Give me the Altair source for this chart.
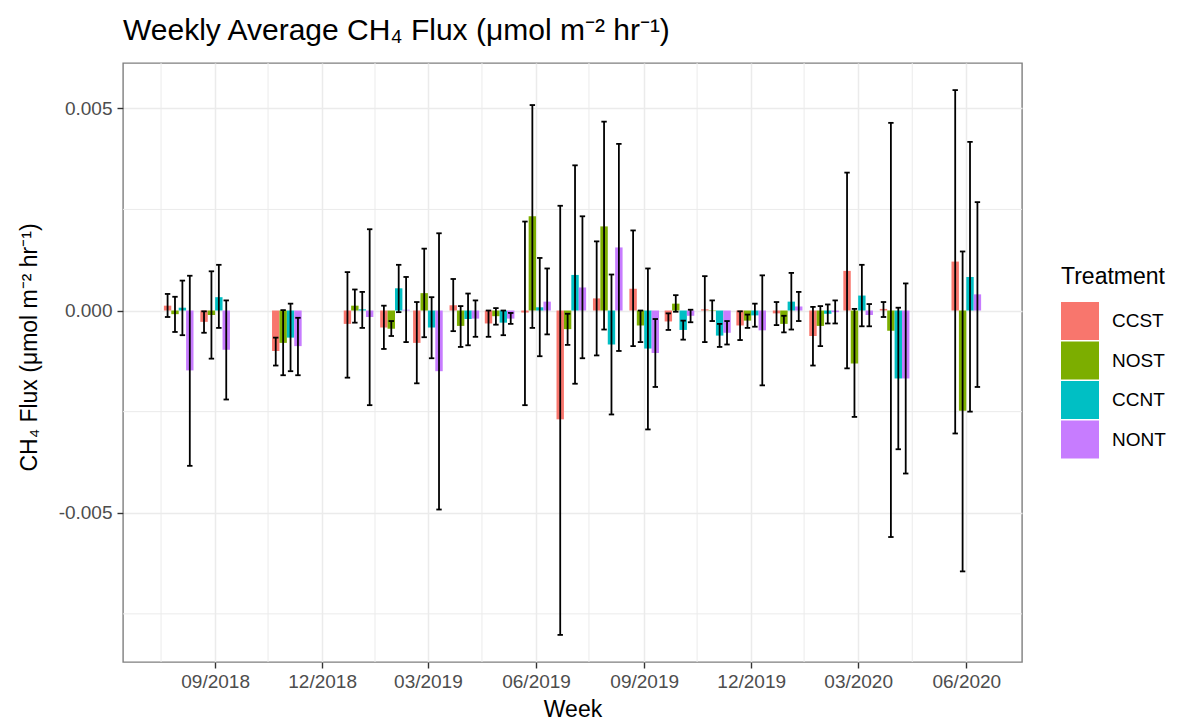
import altair as alt
import pandas as pd

# Monthly sampling dates (one group of bars per date)
weeks = [
    "2018-08-01", "2018-09-01", "2018-11-01", "2019-01-01", "2019-02-01",
    "2019-03-01", "2019-04-01", "2019-05-01", "2019-06-01", "2019-07-01",
    "2019-08-01", "2019-09-01", "2019-10-01", "2019-11-01", "2019-12-01",
    "2020-01-01", "2020-02-01", "2020-03-01", "2020-04-01", "2020-06-01",
]

treatments = ["CCST", "NOST", "CCNT", "NONT"]
colors = ["#F8766D", "#7CAE00", "#00BFC4", "#C77CFF"]

# Mean flux per treatment (umol m-2 hr-1)
flux_ccst = [0.00012, -0.00028, -0.00100, -0.00033, -0.00042, -0.00080, 0.00013, -0.00032, -0.00005, -0.00269,
             0.00030, 0.00054, -0.00027, 0.00003, -0.00037, -0.00007, -0.00063, 0.00098, 0.00004, 0.00121]
flux_nost = [-0.00009, -0.00011, -0.00080, 0.00012, -0.00045, 0.00043, -0.00038, -0.00014, 0.00233, -0.00046,
             0.00208, -0.00037, 0.00017, -0.00001, -0.00025, -0.00033, -0.00038, -0.00131, -0.00050, -0.00248]
flux_ccnt = [0.00007, 0.00033, -0.00067, 0.00003, 0.00055, -0.00042, -0.00021, -0.00030, 0.00008, 0.00088,
             -0.00084, -0.00094, -0.00048, -0.00062, -0.00012, 0.00022, -0.00008, 0.00037, -0.00168, 0.00083]
flux_nont = [-0.00148, -0.00097, -0.00088, -0.00016, 0.00002, -0.00150, -0.00020, -0.00020, 0.00022, 0.00057,
             0.00156, -0.00105, -0.00013, -0.00055, -0.00049, 0.00010, -0.00004, -0.00011, -0.00168, 0.00040]

# Upper ends of the error bars
upper_ccst = [0.00041, -0.00002, -0.00067, 0.00095, 0.00012, 0.00021, 0.00078, 0.00000, 0.00220, 0.00259,
              0.00171, 0.00198, -0.00007, 0.00085, -0.00002, 0.00021, 0.00009, 0.00341, 0.00021, 0.00545]
upper_nost = [0.00034, 0.00097, 0.00001, 0.00052, -0.00026, 0.00153, 0.00011, 0.00006, 0.00508, -0.00008,
              0.00467, 0.00000, 0.00038, 0.00025, -0.00010, -0.00013, 0.00011, 0.00004, 0.00464, 0.00146]
upper_ccnt = [0.00074, 0.00113, 0.00017, 0.00046, 0.00113, 0.00033, 0.00042, 0.00000, 0.00130, 0.00359,
              0.00089, 0.00104, -0.00025, -0.00033, 0.00017, 0.00093, 0.00015, 0.00113, 0.00007, 0.00417]
upper_nont = [0.00086, 0.00025, -0.00018, 0.00201, 0.00083, 0.00191, 0.00025, -0.00006, 0.00104, 0.00233,
              0.00412, -0.00021, 0.00002, -0.00026, 0.00087, 0.00046, 0.00025, 0.00016, 0.00067, 0.00268]

# Lower ends of the error bars
lower_ccst = [-0.00016, -0.00055, -0.00136, -0.00166, -0.00095, -0.00180, -0.00051, -0.00065, -0.00234, -0.00802,
              -0.00111, -0.00088, -0.00048, -0.00078, -0.00073, -0.00036, -0.00136, -0.00143, -0.00016, -0.00304]
lower_nost = [-0.00053, -0.00119, -0.00160, -0.00030, -0.00063, -0.00066, -0.00090, -0.00035, -0.00043, -0.00085,
              -0.00047, -0.00078, -0.00003, -0.00026, -0.00043, -0.00054, -0.00088, -0.00263, -0.00560, -0.00645]
lower_ccnt = [-0.00061, -0.00043, -0.00150, -0.00043, -0.00004, -0.00118, -0.00086, -0.00061, -0.00113, -0.00181,
              -0.00257, -0.00294, -0.00072, -0.00090, -0.00040, -0.00047, -0.00032, -0.00039, -0.00343, -0.00250]
lower_nont = [-0.00384, -0.00220, -0.00160, -0.00234, -0.00078, -0.00492, -0.00065, -0.00033, -0.00059, -0.00118,
              -0.00100, -0.00189, -0.00029, -0.00084, -0.00185, -0.00026, -0.00032, -0.00039, -0.00403, -0.00189]

# Axis breaks
x_major = [(2018, 9), (2018, 12), (2019, 3), (2019, 6), (2019, 9), (2019, 12), (2020, 3), (2020, 6)]
x_minor = ["2018-07-17", "2018-10-16", "2019-01-15", "2019-04-16", "2019-07-16",
           "2019-10-16", "2020-01-15", "2020-04-16"]
y_major = [-0.005, 0.0, 0.005]
y_minor = [-0.0075, -0.0025, 0.0025]

series = {
    "CCST": (flux_ccst, upper_ccst, lower_ccst),
    "NOST": (flux_nost, upper_nost, lower_nost),
    "CCNT": (flux_ccnt, upper_ccnt, lower_ccnt),
    "NONT": (flux_nont, upper_nont, lower_nont),
}
rows = []
for t in treatments:
    f, u, l = series[t]
    for w, fv, uv, lv in zip(weeks, f, u, l):
        rows.append({"Week": w, "Treatment": t, "flux": fv, "upper": uv, "lower": lv})
df = pd.DataFrame(rows)

FONT = "Liberation Sans"
DAY = 86400000
y_title = "CH\u2084 Flux (\u03bcmol m\u207b\u00b2 hr\u207b\u00b9)"

x_scale = alt.Scale(
    type="utc",
    domain=[alt.DateTime(year=2018, month=6, date=14, hours=15, utc=True),
            alt.DateTime(year=2020, month=7, date=18, hours=9, utc=True)],
    nice=False,
)
y_scale = alt.Scale(domain=[-0.00869, 0.00612], nice=False, zero=False)

x_axis = alt.Axis(
    values=[alt.DateTime(year=y, month=m, date=1, utc=True) for y, m in x_major],
    labelExpr="utcFormat(datum.value, '%m/%Y')",
    title="Week", titleY=54, titleBaseline="alphabetic",
    labelPadding=4,
)
y_axis = alt.Axis(
    values=y_major,
    labelExpr="(datum.value < 0 ? '-' : '') + format(abs(datum.value), '.3f')",
    title=y_title, titleX=-87, titleY=284, titleAngle=270,
    titleBaseline="alphabetic", titleAlign="center",
    labelPadding=5,
)

X = lambda f: alt.X(f, scale=x_scale, axis=x_axis)
Y = lambda f: alt.Y(f, scale=y_scale, axis=y_axis)

# Dodged positions: 4 bars share 0.9 * 28 days around each date
base = alt.Chart(df).transform_calculate(
    idx="indexof(['CCST','NOST','CCNT','NONT'], datum.Treatment)"
).transform_calculate(
    x0=f"toDate(datum.Week) + (datum.idx * 6.3 - 12.6) * {DAY}",
).transform_calculate(
    x1=f"datum.x0 + 6.3 * {DAY}",
    xm=f"datum.x0 + 3.15 * {DAY}",
).transform_calculate(
    c0=f"datum.xm - 2.3 * {DAY}",
    c1=f"datum.xm + 2.3 * {DAY}",
)

grid_x = alt.Chart(pd.DataFrame({"d": x_minor})).mark_rule(
    color="#EBEBEB", strokeWidth=1.0
).encode(x=X("d:T"))

grid_y = alt.Chart(pd.DataFrame({"v": y_minor})).mark_rule(
    color="#EBEBEB", strokeWidth=1.0
).encode(y=Y("v:Q"))

bars = base.mark_bar().encode(
    x=X("x0:T"),
    x2="x1:T",
    y=Y("flux:Q"),
    y2=alt.datum(0),
    color=alt.Color(
        "Treatment:N",
        scale=alt.Scale(domain=treatments, range=colors),
        legend=alt.Legend(
            orient="none", legendX=938, legendY=203,
            title="Treatment", titleFontSize=23, titleFont=FONT,
            titleFontWeight="normal", titleColor="black", titlePadding=13,
            labelFontSize=19, labelFont=FONT, labelColor="black",
            symbolType="square", symbolSize=1444, symbolStrokeWidth=0,
            symbolOpacity=1, rowPadding=1.5, labelOffset=13,
        ),
    ),
)

err = base.mark_rule(color="black", strokeWidth=1.8).encode(
    x=X("xm:T"), y=Y("lower:Q"), y2="upper:Q"
)
cap_hi = base.mark_rule(color="black", strokeWidth=1.8).encode(
    x=X("c0:T"), x2="c1:T", y=Y("upper:Q")
)
cap_lo = base.mark_rule(color="black", strokeWidth=1.8).encode(
    x=X("c0:T"), x2="c1:T", y=Y("lower:Q")
)

chart = alt.layer(grid_x, grid_y, bars, err, cap_hi, cap_lo).properties(
    width=899,
    height=599,
    autosize=alt.AutoSizeParams(type="none"),
    padding={"left": 123, "top": 63, "right": 158, "bottom": 61},
    title=alt.Title(
        text="Weekly Average CH\u2084 Flux (\u03bcmol m\u207b\u00b2 hr\u207b\u00b9)",
        anchor="start", frame="group", fontSize=30, font=FONT,
        fontWeight="normal", color="black", offset=17,
    ),
).configure_view(
    stroke="#7F7F7F", strokeWidth=1.4
).configure_axis(
    domain=False, grid=True, gridColor="#EBEBEB", gridWidth=1.5,
    tickColor="#333333", tickSize=6, tickWidth=1.4,
    labelColor="#4D4D4D", labelFont=FONT, labelFontSize=19,
    titleFont=FONT, titleFontSize=23, titleFontWeight="normal", titleColor="black",
)

chart.save("out.html", embed_options={"renderer": "svg", "actions": False})
